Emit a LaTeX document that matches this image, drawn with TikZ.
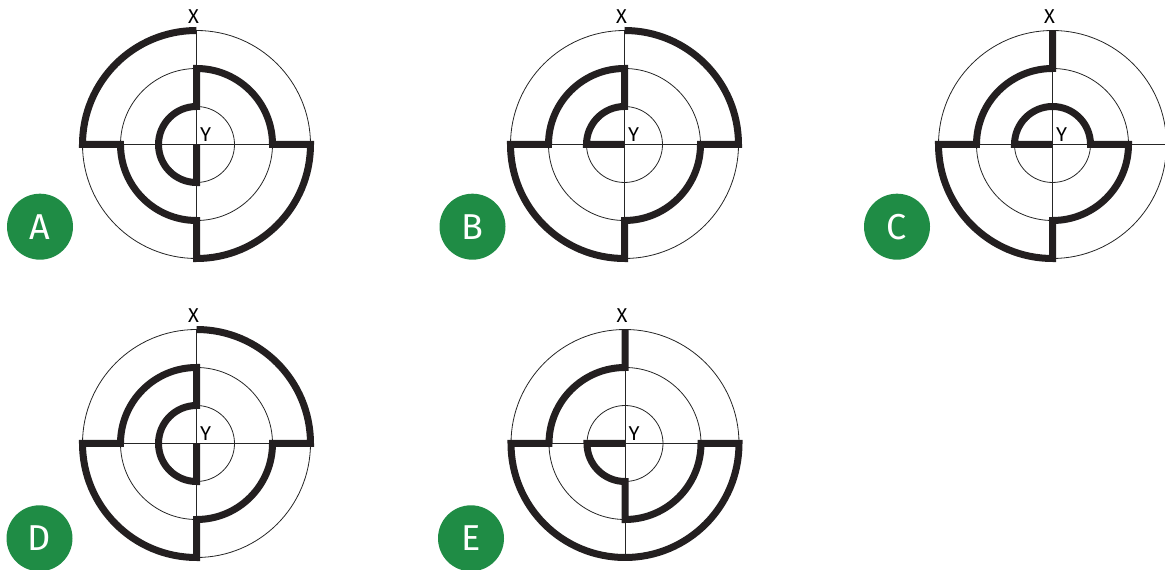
\documentclass[tikz,border=0pt]{standalone}
\usepackage{fontspec}
\setmainfont{Fira Sans}
\definecolor{badgegreen}{RGB}{31,140,69}
\definecolor{mazeblack}{RGB}{35,31,32}
\tikzset{maze/.style={line width=7pt,mazeblack,line join=miter},
    thinline/.style={line width=0.8pt,black!85},
    lbl/.style={inner sep=0pt,font=\fontsize{20}{24}\selectfont},
    badge/.style={circle,fill=badgegreen,text=white,inner sep=0pt,
        minimum size=66pt,font=\fontsize{36}{40}\selectfont}}
\begin{document}
\begin{tikzpicture}[x=1pt,y=1pt,
pics/rings/.style={code={
    \foreach \r in {38,76,114}
      \draw[thinline] (0,0) circle[radius=\r];
    \draw[thinline] (0,-114) -- (0,114);
    \draw[thinline] (-114,0) -- (114,0);
    \node[lbl,anchor=base] (-x) at (-3,121) {X};
    \node[lbl,anchor=base west] (-y) at (3.5,2.5) {Y};}}]
      \clip (0,0) rectangle (1165,570);
      \coordinate (cA) at (196.5,425.5);
      \coordinate (cB) at (624.5,425.5);
      \coordinate (cC) at (1052.5,425.5);
      \coordinate (cD) at (196.5,126.5);
      \coordinate (cE) at (625,126.5);
      \foreach \L in {A,B,C,D,E}
        \pic (\L) at (c\L) {rings};
      % paths from X to Y
      \draw[maze,shift={(cA)}] (90:114) arc[start angle=90,end angle=180,radius=114]
        -- (180:76) arc[start angle=180,end angle=270,radius=76]
        -- (270:114) arc[start angle=270,end angle=360,radius=114]
        -- (0:76) arc[start angle=0,end angle=90,radius=76]
        -- (90:38) arc[start angle=90,end angle=270,radius=38] -- (0,0);
      \draw[maze,shift={(cB)}] (90:114) arc[start angle=90,end angle=0,radius=114]
        -- (0:76) arc[start angle=0,end angle=-90,radius=76]
        -- (-90:114) arc[start angle=-90,end angle=-180,radius=114]
        -- (180:76) arc[start angle=180,end angle=90,radius=76]
        -- (90:38) arc[start angle=90,end angle=180,radius=38] -- (0,0);
      \draw[maze,shift={(cC)}] (90:114) -- (90:76) arc[start angle=90,end angle=180,radius=76]
        -- (180:114) arc[start angle=180,end angle=270,radius=114]
        -- (270:76) arc[start angle=270,end angle=360,radius=76]
        -- (0:38) arc[start angle=0,end angle=180,radius=38] -- (0,0);
      \draw[maze,shift={(cD)}] (90:114) arc[start angle=90,end angle=0,radius=114]
        -- (0:76) arc[start angle=0,end angle=-90,radius=76]
        -- (-90:114) arc[start angle=-90,end angle=-180,radius=114]
        -- (180:76) arc[start angle=180,end angle=90,radius=76]
        -- (90:38) arc[start angle=90,end angle=270,radius=38] -- (0,0);
      \draw[maze,shift={(cE)}] (90:114) -- (90:76) arc[start angle=90,end angle=180,radius=76]
        -- (180:114) arc[start angle=180,end angle=360,radius=114]
        -- (0:76) arc[start angle=0,end angle=-90,radius=76]
        -- (-90:38) arc[start angle=-90,end angle=-180,radius=38] -- (0,0);
      % answer badges
      \node[badge] (bA) at (40,343.3) {A};
      \node[badge] (bB) at (472.5,343.3) {B};
      \node[badge] (bC) at (897,343.3) {C};
      \node[badge] (bD) at (39.5,31.7) {D};
      \node[badge] (bE) at (471,31.7) {E};
    \end{tikzpicture}
\end{document}
